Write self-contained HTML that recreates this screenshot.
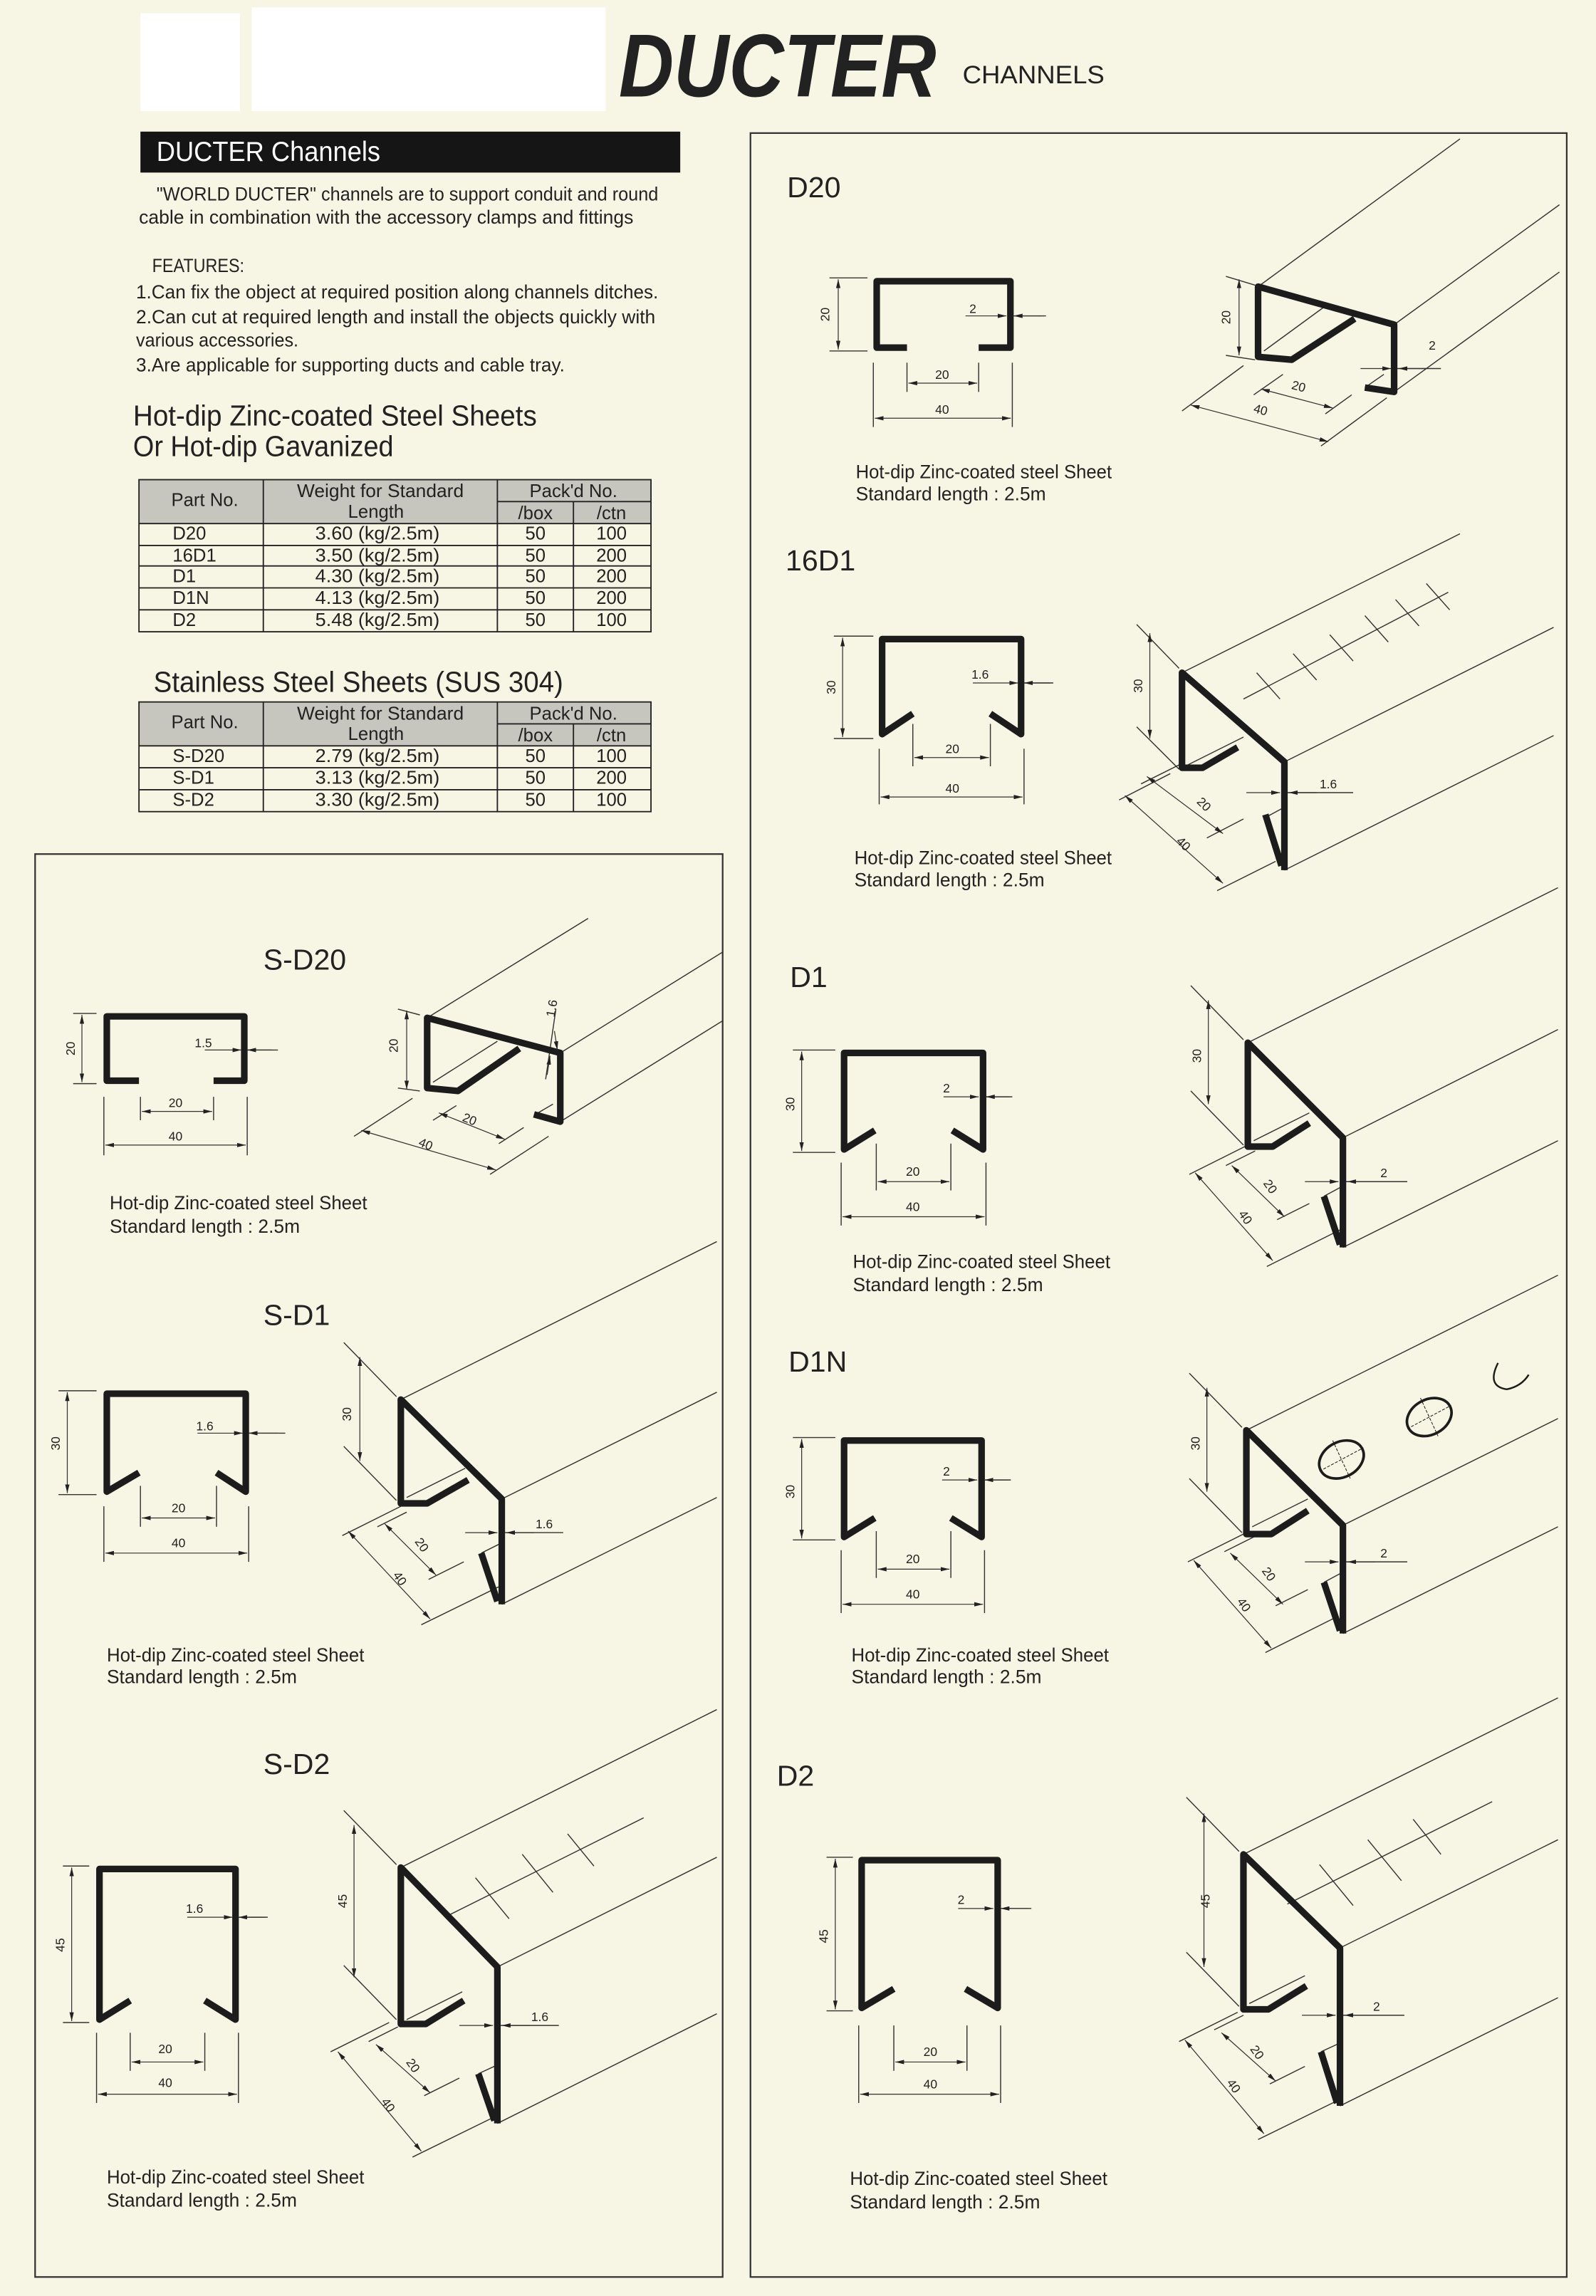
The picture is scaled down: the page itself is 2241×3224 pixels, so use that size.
<!DOCTYPE html>
<html><head><meta charset="utf-8"><style>
html,body{margin:0;padding:0;background:#f7f5e3;}
svg{display:block;}
text{font-family:"Liberation Sans",sans-serif;fill:#222;}
.t{stroke:#1c1c1c;stroke-width:4.5;fill:none;stroke-linejoin:round;}
.n{stroke:#333;stroke-width:0.7;fill:none;}
.d{stroke:#333;stroke-width:0.6;fill:none;marker-end:url(#a);}
.dd{stroke:#333;stroke-width:0.6;fill:none;marker-end:url(#a);marker-start:url(#b);}
.s{font-size:8.5px;}
.c{font-size:13px;}
.h{font-size:20px;}
.tb{font-size:12.5px;}
</style></head><body>
<svg width="2241" height="3224" viewBox="0 0 1091 1570" preserveAspectRatio="none" xmlns="http://www.w3.org/2000/svg">
<defs>
<marker id="a" markerUnits="userSpaceOnUse" markerWidth="6" markerHeight="3" refX="6" refY="1.5" orient="auto"><path d="M0,0 L6,1.5 L0,3z" fill="#222"/></marker>
<marker id="b" markerUnits="userSpaceOnUse" markerWidth="6" markerHeight="3" refX="0" refY="1.5" orient="auto"><path d="M6,0 L0,1.5 L6,3z" fill="#222"/></marker>
</defs>
<rect x="0" y="0" width="1091" height="1570" fill="#f7f5e3"/>
<rect x="96" y="9" width="68" height="67" fill="#fff"/>
<rect x="172" y="5" width="242" height="71" fill="#fff"/>
<text x="423" y="66" font-size="61" font-weight="bold" font-style="italic" textLength="217" lengthAdjust="spacingAndGlyphs">DUCTER</text>
<text x="658" y="57" font-size="17" textLength="97" lengthAdjust="spacingAndGlyphs">CHANNELS</text>

<rect x="96" y="90" width="369" height="28" fill="#151515"/>
<text x="107" y="110" font-size="19" style="fill:#fff" textLength="153" lengthAdjust="spacingAndGlyphs">DUCTER Channels</text>
<g class="c">
<text x="107" y="137" textLength="343" lengthAdjust="spacingAndGlyphs">"WORLD DUCTER" channels are to support conduit and round</text>
<text x="95" y="153" textLength="338" lengthAdjust="spacingAndGlyphs">cable in combination with the accessory clamps and fittings</text>
<text x="104" y="186" textLength="63" lengthAdjust="spacingAndGlyphs">FEATURES:</text>
<text x="93" y="204" textLength="357" lengthAdjust="spacingAndGlyphs">1.Can fix the object at required position along channels ditches.</text>
<text x="93" y="221" textLength="355" lengthAdjust="spacingAndGlyphs">2.Can cut at required length and install the objects quickly with</text>
<text x="93" y="237" textLength="111" lengthAdjust="spacingAndGlyphs">various accessories.</text>
<text x="93" y="254" textLength="293" lengthAdjust="spacingAndGlyphs">3.Are applicable for supporting ducts and cable tray.</text>
</g>
<text class="h" x="91" y="291" textLength="276" lengthAdjust="spacingAndGlyphs">Hot-dip Zinc-coated Steel Sheets</text>
<text class="h" x="91" y="312" textLength="178" lengthAdjust="spacingAndGlyphs">Or Hot-dip Gavanized</text>

<!-- Table 1 -->
<rect x="95" y="328" width="350" height="30" fill="#c6c6be"/>
<g class="n" style="stroke:#222;stroke-width:0.9">
<rect x="95" y="328" width="350" height="104"/>
<line x1="180" y1="328" x2="180" y2="432"/><line x1="340" y1="328" x2="340" y2="432"/><line x1="392" y1="343" x2="392" y2="432"/>
<line x1="340" y1="343" x2="445" y2="343"/>
<line x1="95" y1="358" x2="445" y2="358"/><line x1="95" y1="373" x2="445" y2="373"/><line x1="95" y1="387" x2="445" y2="387"/><line x1="95" y1="402" x2="445" y2="402"/><line x1="95" y1="417" x2="445" y2="417"/>
</g>
<g class="tb" text-anchor="middle">
<text x="140" y="346">Part No.</text>
<text x="260" y="340" textLength="114" lengthAdjust="spacingAndGlyphs">Weight for Standard</text>
<text x="257" y="354">Length</text>
<text x="392" y="340">Pack'd No.</text>
<text x="366" y="355">/box</text><text x="418" y="355">/ctn</text>
<text x="258" y="369" textLength="85" lengthAdjust="spacingAndGlyphs">3.60 (kg/2.5m)</text>
<text x="258" y="384" textLength="85" lengthAdjust="spacingAndGlyphs">3.50 (kg/2.5m)</text>
<text x="258" y="398" textLength="85" lengthAdjust="spacingAndGlyphs">4.30 (kg/2.5m)</text>
<text x="258" y="413" textLength="85" lengthAdjust="spacingAndGlyphs">4.13 (kg/2.5m)</text>
<text x="258" y="428" textLength="85" lengthAdjust="spacingAndGlyphs">5.48 (kg/2.5m)</text>
<text x="366" y="369">50</text><text x="366" y="384">50</text><text x="366" y="398">50</text><text x="366" y="413">50</text><text x="366" y="428">50</text>
<text x="418" y="369">100</text><text x="418" y="384">200</text><text x="418" y="398">200</text><text x="418" y="413">200</text><text x="418" y="428">100</text>
</g>
<g class="tb">
<text x="118" y="369">D20</text><text x="118" y="384">16D1</text><text x="118" y="398">D1</text><text x="118" y="413">D1N</text><text x="118" y="428">D2</text>
</g>

<text class="h" x="105" y="473" textLength="280" lengthAdjust="spacingAndGlyphs">Stainless Steel Sheets (SUS 304)</text>
<!-- Table 2 -->
<rect x="95" y="480" width="350" height="30" fill="#c6c6be"/>
<g class="n" style="stroke:#222;stroke-width:0.9">
<rect x="95" y="480" width="350" height="75"/>
<line x1="180" y1="480" x2="180" y2="555"/><line x1="340" y1="480" x2="340" y2="555"/><line x1="392" y1="495" x2="392" y2="555"/>
<line x1="340" y1="495" x2="445" y2="495"/>
<line x1="95" y1="510" x2="445" y2="510"/><line x1="95" y1="525" x2="445" y2="525"/><line x1="95" y1="540" x2="445" y2="540"/>
</g>
<g class="tb" text-anchor="middle">
<text x="140" y="498">Part No.</text>
<text x="260" y="492" textLength="114" lengthAdjust="spacingAndGlyphs">Weight for Standard</text>
<text x="257" y="506">Length</text>
<text x="392" y="492">Pack'd No.</text>
<text x="366" y="507">/box</text><text x="418" y="507">/ctn</text>
<text x="258" y="521" textLength="85" lengthAdjust="spacingAndGlyphs">2.79 (kg/2.5m)</text>
<text x="258" y="536" textLength="85" lengthAdjust="spacingAndGlyphs">3.13 (kg/2.5m)</text>
<text x="258" y="551" textLength="85" lengthAdjust="spacingAndGlyphs">3.30 (kg/2.5m)</text>
<text x="366" y="521">50</text><text x="366" y="536">50</text><text x="366" y="551">50</text>
<text x="418" y="521">100</text><text x="418" y="536">200</text><text x="418" y="551">100</text>
</g>
<g class="tb"><text x="118" y="521">S-D20</text><text x="118" y="536">S-D1</text><text x="118" y="551">S-D2</text></g>

<!-- boxes -->
<rect x="24" y="584" width="470" height="973" fill="none" stroke="#333" stroke-width="1.1"/>
<rect x="513" y="91" width="558" height="1466" fill="none" stroke="#333" stroke-width="1.1"/>

<!-- ================= RIGHT PANEL ================= -->
<!-- D20 -->
<text class="h" x="538" y="135">D20</text>
<path class="t" d="M620 237.7 H599.3 V192.3 H690.7 V237.7 H669"/>
<g class="n"><line x1="567" y1="190" x2="593" y2="190"/><line x1="567" y1="240" x2="593" y2="240"/>
<line x1="620" y1="248" x2="620" y2="268"/><line x1="669" y1="248" x2="669" y2="268"/><line x1="597" y1="248" x2="597" y2="292"/><line x1="692" y1="248" x2="692" y2="292"/>
<line x1="693" y1="216" x2="715" y2="216"/></g>
<line class="dd" x1="573" y1="191" x2="573" y2="239"/>
<line class="dd" x1="621" y1="262" x2="668" y2="262"/>
<line class="dd" x1="598" y1="286" x2="691" y2="286"/>
<line class="d" x1="660" y1="216" x2="688" y2="216"/><line class="d" x1="712" y1="216" x2="693" y2="216"/>
<g class="s" text-anchor="middle"><text transform="translate(567,215) rotate(-90)">20</text><text x="665" y="214">2</text><text x="644" y="259">20</text><text x="644" y="283">40</text></g>
<text class="c" x="585" y="327" textLength="175" lengthAdjust="spacingAndGlyphs">Hot-dip Zinc-coated steel Sheet</text>
<text class="c" x="585" y="342" textLength="130" lengthAdjust="spacingAndGlyphs">Standard length : 2.5m</text>
<!-- D20 iso -->
<g class="n"><line x1="860" y1="196" x2="998" y2="95"/><line x1="953" y1="222" x2="1066" y2="140"/><line x1="953" y1="268" x2="1066" y2="186"/><line x1="864" y1="240" x2="905" y2="210"/><line x1="933" y1="265" x2="946" y2="256"/>
<line x1="838" y1="189" x2="858" y2="195"/><line x1="838" y1="243" x2="858" y2="246"/>
<line x1="808" y1="281" x2="850" y2="250"/><line x1="903" y1="305" x2="948" y2="272"/><line x1="857" y1="270" x2="877" y2="256"/><line x1="906" y1="283" x2="924" y2="270"/>
<line x1="955" y1="252" x2="985" y2="252"/></g>
<path class="t" d="M926 218 L883 246 L860 244 V196 L953 222 V268 L933 265"/>
<line class="dd" x1="847" y1="191" x2="847" y2="243"/>
<line class="dd" x1="814" y1="277" x2="908" y2="302"/>
<line class="dd" x1="862" y1="266" x2="911" y2="279"/>
<line class="d" x1="930" y1="252" x2="951" y2="252"/><line class="d" x1="975" y1="252" x2="956" y2="252"/>
<g class="s" text-anchor="middle"><text transform="translate(841,217) rotate(-90)">20</text><text x="979" y="239">2</text><text transform="translate(887,267) rotate(15)">20</text><text transform="translate(861,283) rotate(15)">40</text></g>

<!-- 16D1 -->
<text class="h" x="537" y="390">16D1</text>
<path class="t" d="M624 488 L603 502 V437 H698 V502 L677 488"/>
<g class="n"><line x1="570" y1="435" x2="597" y2="435"/><line x1="570" y1="505" x2="597" y2="505"/>
<line x1="624" y1="495" x2="624" y2="524"/><line x1="677" y1="495" x2="677" y2="524"/><line x1="601" y1="512" x2="601" y2="550"/><line x1="700" y1="512" x2="700" y2="550"/>
<line x1="700" y1="467" x2="720" y2="467"/></g>
<line class="dd" x1="576" y1="436" x2="576" y2="504"/>
<line class="dd" x1="625" y1="518" x2="676" y2="518"/>
<line class="dd" x1="602" y1="545" x2="699" y2="545"/>
<line class="d" x1="665" y1="467" x2="696" y2="467"/><line class="d" x1="718" y1="467" x2="700" y2="467"/>
<g class="s" text-anchor="middle"><text transform="translate(571,470) rotate(-90)">30</text><text x="670" y="464">1.6</text><text x="651" y="515">20</text><text x="651" y="542">40</text></g>
<text class="c" x="584" y="591" textLength="176" lengthAdjust="spacingAndGlyphs">Hot-dip Zinc-coated steel Sheet</text>
<text class="c" x="584" y="606" textLength="130" lengthAdjust="spacingAndGlyphs">Standard length : 2.5m</text>
<!-- 16D1 iso -->
<g class="n"><line x1="808" y1="460" x2="998" y2="365"/><line x1="878" y1="521" x2="1062" y2="429"/><line x1="878" y1="595" x2="1062" y2="503"/>
<line x1="812" y1="523" x2="850" y2="504"/><line x1="865" y1="559" x2="878" y2="552"/>
<line x1="850" y1="478" x2="990" y2="405"/>
<line x1="859" y1="460" x2="875" y2="478"/><line x1="884" y1="447" x2="900" y2="465"/><line x1="909" y1="434" x2="925" y2="452"/><line x1="933" y1="421" x2="949" y2="439"/><line x1="954" y1="410" x2="970" y2="428"/><line x1="975" y1="399" x2="991" y2="417"/>
<line x1="777" y1="427" x2="806" y2="457"/><line x1="777" y1="497" x2="806" y2="526"/>
<line x1="765" y1="547" x2="800" y2="529"/><line x1="780" y1="536" x2="808" y2="522"/>
<line x1="825" y1="573" x2="850" y2="560"/><line x1="832" y1="609" x2="872" y2="589"/>
<line x1="880" y1="542" x2="925" y2="542"/></g>
<path class="t" d="M846 511 L822 525 L808 525 V460 L878 521 V595 M865 557 L876 592"/>
<line class="dd" x1="786" y1="433" x2="786" y2="505"/>
<line class="dd" x1="784" y1="531" x2="836" y2="570"/>
<line class="dd" x1="769" y1="544" x2="836" y2="604"/>
<line class="d" x1="852" y1="542" x2="875" y2="542"/><line class="d" x1="900" y1="542" x2="881" y2="542"/>
<g class="s" text-anchor="middle"><text transform="translate(781,469) rotate(-90)">30</text><text x="908" y="539">1.6</text><text transform="translate(821,552) rotate(45)">20</text><text transform="translate(807,579) rotate(45)">40</text></g>

<!-- D1 -->
<text class="h" x="540" y="675">D1</text>
<path class="t" d="M598 773 L577 786 V720 H672 V786 L651 773"/>
<g class="n"><line x1="542" y1="718" x2="571" y2="718"/><line x1="542" y1="788" x2="571" y2="788"/>
<line x1="599" y1="782" x2="599" y2="814"/><line x1="650" y1="782" x2="650" y2="814"/><line x1="575" y1="795" x2="575" y2="838"/><line x1="674" y1="795" x2="674" y2="838"/>
<line x1="674" y1="750" x2="692" y2="750"/></g>
<line class="dd" x1="548" y1="719" x2="548" y2="787"/>
<line class="dd" x1="600" y1="808" x2="649" y2="808"/>
<line class="dd" x1="576" y1="832" x2="673" y2="832"/>
<line class="d" x1="645" y1="750" x2="669" y2="750"/><line class="d" x1="690" y1="750" x2="674" y2="750"/>
<g class="s" text-anchor="middle"><text transform="translate(543,755) rotate(-90)">30</text><text x="647" y="747">2</text><text x="624" y="804">20</text><text x="624" y="828">40</text></g>
<text class="c" x="583" y="867" textLength="176" lengthAdjust="spacingAndGlyphs">Hot-dip Zinc-coated steel Sheet</text>
<text class="c" x="583" y="883" textLength="130" lengthAdjust="spacingAndGlyphs">Standard length : 2.5m</text>
<!-- D1 iso -->
<g class="n"><line x1="853" y1="713" x2="1065" y2="607"/><line x1="918" y1="778" x2="1065" y2="704"/><line x1="918" y1="853" x2="1065" y2="780"/>
<line x1="857" y1="780" x2="895" y2="761"/><line x1="905" y1="818" x2="918" y2="811"/>
<line x1="850" y1="711" x2="814" y2="674"/><line x1="850" y1="783" x2="814" y2="746"/>
<line x1="813" y1="803" x2="853" y2="783"/><line x1="838" y1="797" x2="858" y2="787"/>
<line x1="873" y1="834" x2="895" y2="823"/><line x1="866" y1="866" x2="916" y2="841"/>
<line x1="918" y1="808" x2="962" y2="808"/></g>
<path class="t" d="M895 768 L870 784 L853 784 V713 L918 778 V853 M905 818 L916 851"/>
<line class="dd" x1="826" y1="684" x2="826" y2="755"/>
<line class="dd" x1="842" y1="797" x2="878" y2="832"/>
<line class="dd" x1="817" y1="802" x2="870" y2="862"/>
<line class="d" x1="892" y1="808" x2="915" y2="808"/><line class="d" x1="940" y1="808" x2="921" y2="808"/>
<g class="s" text-anchor="middle"><text transform="translate(821,722) rotate(-90)">30</text><text x="946" y="805">2</text><text transform="translate(866,813) rotate(55)">20</text><text transform="translate(849,834) rotate(55)">40</text></g>

<!-- D1N -->
<text class="h" x="539" y="938">D1N</text>
<path class="t" d="M598 1038 L577 1051 V985 H671 V1051 L650 1038"/>
<g class="n"><line x1="542" y1="983" x2="571" y2="983"/><line x1="542" y1="1053" x2="571" y2="1053"/>
<line x1="599" y1="1047" x2="599" y2="1079"/><line x1="650" y1="1047" x2="650" y2="1079"/><line x1="575" y1="1060" x2="575" y2="1103"/><line x1="673" y1="1060" x2="673" y2="1103"/>
<line x1="673" y1="1012" x2="691" y2="1012"/></g>
<line class="dd" x1="548" y1="984" x2="548" y2="1052"/>
<line class="dd" x1="600" y1="1073" x2="649" y2="1073"/>
<line class="dd" x1="576" y1="1097" x2="672" y2="1097"/>
<line class="d" x1="644" y1="1012" x2="668" y2="1012"/><line class="d" x1="689" y1="1012" x2="673" y2="1012"/>
<g class="s" text-anchor="middle"><text transform="translate(543,1020) rotate(-90)">30</text><text x="647" y="1009">2</text><text x="624" y="1069">20</text><text x="624" y="1093">40</text></g>
<text class="c" x="582" y="1136" textLength="176" lengthAdjust="spacingAndGlyphs">Hot-dip Zinc-coated steel Sheet</text>
<text class="c" x="582" y="1151" textLength="130" lengthAdjust="spacingAndGlyphs">Standard length : 2.5m</text>
<!-- D1N iso -->
<g class="n"><line x1="852" y1="978" x2="1065" y2="872"/><line x1="918" y1="1043" x2="1065" y2="970"/><line x1="918" y1="1117" x2="1065" y2="1044"/>
<line x1="856" y1="1044" x2="894" y2="1025"/><line x1="905" y1="1082" x2="918" y2="1075"/>
<line x1="849" y1="976" x2="813" y2="939"/><line x1="849" y1="1048" x2="813" y2="1011"/>
<line x1="812" y1="1068" x2="852" y2="1048"/><line x1="837" y1="1061" x2="857" y2="1051"/>
<line x1="872" y1="1098" x2="894" y2="1087"/><line x1="865" y1="1130" x2="915" y2="1105"/>
<line x1="918" y1="1068" x2="962" y2="1068"/></g>
<g stroke="#1c1c1c" fill="none">
<ellipse cx="917" cy="998" rx="16" ry="12" transform="rotate(-28 917 998)" stroke-width="1.8"/>
<ellipse cx="977" cy="969" rx="16" ry="12" transform="rotate(-28 977 969)" stroke-width="1.8"/>
<path d="M1024 932 Q1016 948 1030 950 Q1040 948 1045 940" stroke-width="1.2"/>
<g stroke-width="0.5" stroke-dasharray="2,1"><line x1="902" y1="1006" x2="932" y2="990"/><line x1="911" y1="985" x2="923" y2="1011"/><line x1="962" y1="977" x2="992" y2="961"/><line x1="971" y1="956" x2="983" y2="982"/></g>
</g>
<path class="t" d="M894 1033 L869 1049 L852 1049 V978 L918 1043 V1117 M905 1082 L916 1115"/>
<line class="dd" x1="825" y1="949" x2="825" y2="1020"/>
<line class="dd" x1="841" y1="1062" x2="877" y2="1097"/>
<line class="dd" x1="816" y1="1067" x2="869" y2="1127"/>
<line class="d" x1="892" y1="1068" x2="915" y2="1068"/><line class="d" x1="940" y1="1068" x2="921" y2="1068"/>
<g class="s" text-anchor="middle"><text transform="translate(820,987) rotate(-90)">30</text><text x="946" y="1065">2</text><text transform="translate(865,1078) rotate(55)">20</text><text transform="translate(848,1099) rotate(55)">40</text></g>

<!-- D2 -->
<text class="h" x="531" y="1221">D2</text>
<path class="t" d="M611 1360 L589 1373 V1272 H682 V1373 L660 1360"/>
<g class="n"><line x1="565" y1="1270" x2="583" y2="1270"/><line x1="565" y1="1375" x2="583" y2="1375"/>
<line x1="611" y1="1385" x2="611" y2="1416"/><line x1="661" y1="1385" x2="661" y2="1416"/><line x1="587" y1="1385" x2="587" y2="1438"/><line x1="684" y1="1385" x2="684" y2="1438"/>
<line x1="684" y1="1305" x2="705" y2="1305"/></g>
<line class="dd" x1="571" y1="1271" x2="571" y2="1374"/>
<line class="dd" x1="612" y1="1410" x2="660" y2="1410"/>
<line class="dd" x1="588" y1="1432" x2="683" y2="1432"/>
<line class="d" x1="655" y1="1305" x2="679" y2="1305"/><line class="d" x1="703" y1="1305" x2="684" y2="1305"/>
<g class="s" text-anchor="middle"><text transform="translate(566,1324) rotate(-90)">45</text><text x="657" y="1302">2</text><text x="636" y="1406">20</text><text x="636" y="1428">40</text></g>
<text class="c" x="581" y="1494" textLength="176" lengthAdjust="spacingAndGlyphs">Hot-dip Zinc-coated steel Sheet</text>
<text class="c" x="581" y="1510" textLength="130" lengthAdjust="spacingAndGlyphs">Standard length : 2.5m</text>
<!-- D2 iso -->
<g class="n"><line x1="850" y1="1268" x2="1065" y2="1161"/><line x1="916" y1="1332" x2="1065" y2="1258"/><line x1="916" y1="1440" x2="1065" y2="1366"/>
<line x1="854" y1="1370" x2="892" y2="1351"/><line x1="903" y1="1403" x2="916" y2="1397"/>
<line x1="880" y1="1302" x2="1020" y2="1232"/>
<line x1="902" y1="1275" x2="925" y2="1303"/><line x1="935" y1="1258" x2="958" y2="1286"/><line x1="966" y1="1244" x2="985" y2="1268"/>
<line x1="847" y1="1266" x2="811" y2="1229"/><line x1="847" y1="1372" x2="811" y2="1335"/>
<line x1="806" y1="1396" x2="846" y2="1376"/><line x1="830" y1="1388" x2="850" y2="1378"/>
<line x1="868" y1="1425" x2="892" y2="1413"/><line x1="860" y1="1463" x2="913" y2="1437"/>
<line x1="916" y1="1378" x2="960" y2="1378"/></g>
<path class="t" d="M893 1358 L867 1374 L850 1374 V1268 L916 1332 V1440 M903 1403 L914 1438"/>
<line class="dd" x1="823" y1="1240" x2="823" y2="1345"/>
<line class="dd" x1="835" y1="1390" x2="872" y2="1423"/>
<line class="dd" x1="810" y1="1395" x2="864" y2="1459"/>
<line class="d" x1="890" y1="1378" x2="913" y2="1378"/><line class="d" x1="938" y1="1378" x2="919" y2="1378"/>
<g class="s" text-anchor="middle"><text transform="translate(827,1300) rotate(-90)">45</text><text x="941" y="1375">2</text><text transform="translate(857,1405) rotate(55)">20</text><text transform="translate(841,1428) rotate(55)">40</text></g>

<!-- ================= LEFT PANEL ================= -->
<!-- S-D20 -->
<text class="h" x="180" y="663">S-D20</text>
<path class="t" d="M95 739 H73 V695 H167 V739 H146"/>
<g class="n"><line x1="50" y1="693" x2="66" y2="693"/><line x1="50" y1="741" x2="66" y2="741"/>
<line x1="96" y1="750" x2="96" y2="766"/><line x1="146" y1="750" x2="146" y2="766"/><line x1="71" y1="750" x2="71" y2="790"/><line x1="169" y1="750" x2="169" y2="790"/>
<line x1="169" y1="718" x2="190" y2="718"/></g>
<line class="dd" x1="56" y1="694" x2="56" y2="740"/>
<line class="dd" x1="97" y1="760" x2="145" y2="760"/>
<line class="dd" x1="72" y1="783" x2="168" y2="783"/>
<line class="d" x1="140" y1="718" x2="165" y2="718"/><line class="d" x1="186" y1="718" x2="169" y2="718"/>
<g class="s" text-anchor="middle"><text transform="translate(51,717) rotate(-90)">20</text><text x="139" y="716">1.5</text><text x="120" y="757">20</text><text x="120" y="780">40</text></g>
<text class="c" x="75" y="827" textLength="176" lengthAdjust="spacingAndGlyphs">Hot-dip Zinc-coated steel Sheet</text>
<text class="c" x="75" y="843" textLength="130" lengthAdjust="spacingAndGlyphs">Standard length : 2.5m</text>
<!-- S-D20 iso -->
<g class="n"><line x1="292" y1="696" x2="402" y2="628"/><line x1="383" y1="720" x2="494" y2="651"/><line x1="383" y1="767" x2="494" y2="698"/>
<line x1="296" y1="740" x2="340" y2="712"/><line x1="366" y1="762" x2="378" y2="755"/>
<line x1="272" y1="690" x2="287" y2="694"/><line x1="272" y1="744" x2="287" y2="746"/>
<line x1="242" y1="777" x2="282" y2="751"/><line x1="335" y1="803" x2="375" y2="777"/>
<line x1="296" y1="766" x2="312" y2="756"/><line x1="341" y1="782" x2="358" y2="771"/>
<line x1="380" y1="690" x2="373" y2="738"/></g>
<path class="t" d="M355 717 L313 746 L292 744 V696 L383 720 V767 L365 762"/>
<line class="dd" x1="278" y1="691" x2="278" y2="745"/>
<line class="dd" x1="247" y1="773" x2="339" y2="800"/>
<line class="dd" x1="300" y1="761" x2="345" y2="779"/>
<line class="d" x1="379" y1="705" x2="381" y2="718"/><line class="d" x1="374" y1="735" x2="376" y2="722"/>
<g class="s" text-anchor="middle"><text transform="translate(272,715) rotate(-90)">20</text><text transform="translate(380,690) rotate(-80)">1.6</text><text transform="translate(320,768) rotate(22)">20</text><text transform="translate(290,785) rotate(22)">40</text></g>

<!-- S-D1 -->
<text class="h" x="180" y="906">S-D1</text>
<path class="t" d="M95 1007 L73 1020 V953 H168 V1020 L148 1007"/>
<g class="n"><line x1="40" y1="951" x2="66" y2="951"/><line x1="40" y1="1022" x2="66" y2="1022"/>
<line x1="96" y1="1016" x2="96" y2="1044"/><line x1="148" y1="1016" x2="148" y2="1044"/><line x1="71" y1="1030" x2="71" y2="1068"/><line x1="170" y1="1030" x2="170" y2="1068"/>
<line x1="170" y1="980" x2="195" y2="980"/></g>
<line class="dd" x1="46" y1="952" x2="46" y2="1021"/>
<line class="dd" x1="97" y1="1038" x2="147" y2="1038"/>
<line class="dd" x1="72" y1="1062" x2="169" y2="1062"/>
<line class="d" x1="135" y1="980" x2="166" y2="980"/><line class="d" x1="190" y1="980" x2="170" y2="980"/>
<g class="s" text-anchor="middle"><text transform="translate(41,987) rotate(-90)">30</text><text x="140" y="978">1.6</text><text x="122" y="1034">20</text><text x="122" y="1058">40</text></g>
<text class="c" x="73" y="1136" textLength="176" lengthAdjust="spacingAndGlyphs">Hot-dip Zinc-coated steel Sheet</text>
<text class="c" x="73" y="1151" textLength="130" lengthAdjust="spacingAndGlyphs">Standard length : 2.5m</text>
<!-- S-D1 iso -->
<g class="n"><line x1="274" y1="957" x2="490" y2="849"/><line x1="343" y1="1025" x2="490" y2="952"/><line x1="343" y1="1097" x2="490" y2="1024"/>
<line x1="278" y1="1024" x2="318" y2="1004"/><line x1="329" y1="1062" x2="343" y2="1055"/>
<line x1="271" y1="955" x2="235" y2="918"/><line x1="271" y1="1026" x2="235" y2="989"/>
<line x1="234" y1="1050" x2="274" y2="1030"/><line x1="258" y1="1044" x2="278" y2="1034"/>
<line x1="293" y1="1080" x2="317" y2="1068"/><line x1="288" y1="1111" x2="341" y2="1085"/>
<line x1="343" y1="1048" x2="385" y2="1048"/></g>
<path class="t" d="M320 1012 L292 1028 L274 1028 V957 L343 1025 V1097 M329 1062 L340 1095"/>
<line class="dd" x1="246" y1="928" x2="246" y2="999"/>
<line class="dd" x1="263" y1="1042" x2="298" y2="1077"/>
<line class="dd" x1="238" y1="1047" x2="294" y2="1107"/>
<line class="d" x1="318" y1="1048" x2="340" y2="1048"/><line class="d" x1="365" y1="1048" x2="346" y2="1048"/>
<g class="s" text-anchor="middle"><text transform="translate(240,967) rotate(-90)">30</text><text x="372" y="1045">1.6</text><text transform="translate(286,1058) rotate(55)">20</text><text transform="translate(271,1081) rotate(55)">40</text></g>

<!-- S-D2 -->
<text class="h" x="180" y="1213">S-D2</text>
<path class="t" d="M89 1368 L68 1381 V1278 H161 V1381 L140 1368"/>
<g class="n"><line x1="43" y1="1276" x2="61" y2="1276"/><line x1="43" y1="1383" x2="61" y2="1383"/>
<line x1="89" y1="1390" x2="89" y2="1416"/><line x1="140" y1="1390" x2="140" y2="1416"/><line x1="66" y1="1390" x2="66" y2="1438"/><line x1="163" y1="1390" x2="163" y2="1438"/>
<line x1="163" y1="1311" x2="183" y2="1311"/></g>
<line class="dd" x1="49" y1="1277" x2="49" y2="1382"/>
<line class="dd" x1="90" y1="1410" x2="139" y2="1410"/>
<line class="dd" x1="67" y1="1432" x2="162" y2="1432"/>
<line class="d" x1="128" y1="1311" x2="159" y2="1311"/><line class="d" x1="181" y1="1311" x2="163" y2="1311"/>
<g class="s" text-anchor="middle"><text transform="translate(44,1330) rotate(-90)">45</text><text x="133" y="1308">1.6</text><text x="113" y="1404">20</text><text x="113" y="1427">40</text></g>
<text class="c" x="73" y="1493" textLength="176" lengthAdjust="spacingAndGlyphs">Hot-dip Zinc-coated steel Sheet</text>
<text class="c" x="73" y="1509" textLength="130" lengthAdjust="spacingAndGlyphs">Standard length : 2.5m</text>
<!-- S-D2 iso -->
<g class="n"><line x1="274" y1="1277" x2="490" y2="1169"/><line x1="340" y1="1345" x2="490" y2="1270"/><line x1="340" y1="1452" x2="490" y2="1377"/>
<line x1="278" y1="1381" x2="316" y2="1362"/><line x1="327" y1="1418" x2="340" y2="1412"/>
<line x1="304" y1="1311" x2="440" y2="1243"/>
<line x1="325" y1="1284" x2="348" y2="1312"/><line x1="357" y1="1268" x2="378" y2="1294"/><line x1="388" y1="1254" x2="406" y2="1276"/>
<line x1="271" y1="1275" x2="235" y2="1238"/><line x1="271" y1="1381" x2="235" y2="1344"/>
<line x1="226" y1="1403" x2="266" y2="1383"/><line x1="252" y1="1396" x2="272" y2="1386"/>
<line x1="290" y1="1433" x2="314" y2="1421"/><line x1="282" y1="1475" x2="337" y2="1448"/>
<line x1="340" y1="1385" x2="382" y2="1385"/></g>
<path class="t" d="M317 1368 L291 1384 L274 1384 V1277 L340 1345 V1452 M327 1418 L338 1450"/>
<line class="dd" x1="242" y1="1248" x2="242" y2="1352"/>
<line class="dd" x1="257" y1="1398" x2="294" y2="1431"/>
<line class="dd" x1="231" y1="1403" x2="288" y2="1471"/>
<line class="d" x1="314" y1="1385" x2="337" y2="1385"/><line class="d" x1="362" y1="1385" x2="343" y2="1385"/>
<g class="s" text-anchor="middle"><text transform="translate(237,1300) rotate(-90)">45</text><text x="369" y="1382">1.6</text><text transform="translate(280,1414) rotate(55)">20</text><text transform="translate(263,1441) rotate(55)">40</text></g>
</svg>
</body></html>
